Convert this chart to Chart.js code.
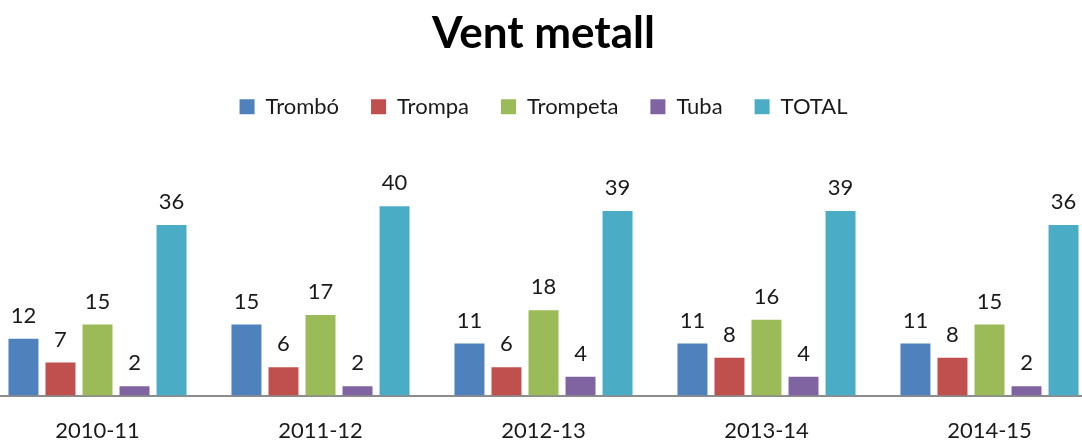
<!DOCTYPE html>
<html>
<head>
<meta charset="utf-8">
<script src="https://cdn.jsdelivr.net/npm/chart.js@4/dist/chart.umd.min.js"></script>
<style>
  html, body { margin: 0; padding: 0; background: #fff; overflow: hidden; }
  #wrap { position: absolute; left: -14px; top: 0; width: 1115px; height: 470px; }
</style>
</head>
<body>
<div id="wrap"><canvas id="chart" width="1115" height="470"></canvas></div>
<script>
const seasons = ["2010-11", "2011-12", "2012-13", "2013-14", "2014-15"];
const trombo = [12, 15, 11, 11, 11];
const trompa = [7, 6, 6, 8, 8];
const trompeta = [15, 17, 18, 16, 15];
const tuba = [2, 2, 4, 4, 2];
const total = [36, 40, 39, 39, 36];

const font = "Lato, 'Open Sans', sans-serif";

// draws the number above each bar
const barLabels = {
  id: "barLabels",
  afterDatasetsDraw(chart) {
    const ctx = chart.ctx;
    ctx.save();
    ctx.font = "22px " + font;
    ctx.fillStyle = "#1a1a1a";
    ctx.textAlign = "center";
    ctx.textBaseline = "bottom";
    chart.data.datasets.forEach((ds, i) => {
      chart.getDatasetMeta(i).data.forEach((bar, j) => {
        ctx.fillText(ds.data[j], bar.x, bar.y - 12);
      });
    });
    ctx.restore();
  }
};

// extra room under the legend
const legendGap = {
  id: "legendGap",
  beforeInit(chart) {
    const fit = chart.legend.fit;
    chart.legend.fit = function () {
      fit.bind(chart.legend)();
      this.height += 31;
    };
  }
};

function series(label, data, color) {
  return { label, data, backgroundColor: color, borderWidth: 0,
           categoryPercentage: 0.83, barPercentage: 0.81 };
}

new Chart(document.getElementById("chart"), {
  type: "bar",
  data: {
    labels: seasons,
    datasets: [
      series("Trombó", trombo, "#4F81BD"),
      series("Trompa", trompa, "#C0504D"),
      series("Trompeta", trompeta, "#9BBB59"),
      series("Tuba", tuba, "#8064A2"),
      series("TOTAL", total, "#4BACC6")
    ]
  },
  options: {
    responsive: false,
    animation: false,
    layout: { padding: { top: 4, bottom: 4, left: 0, right: 0 } },
    plugins: {
      title: {
        display: true,
        text: "Vent metall",
        color: "#000",
        font: { family: font, size: 44, weight: "bold" },
        padding: { top: 3, bottom: 4 }
      },
      legend: {
        position: "top",
        labels: {
          color: "#1a1a1a",
          font: { family: font, size: 22 },
          boxWidth: 15, boxHeight: 15,
          padding: 32
        }
      },
      tooltip: { enabled: false }
    },
    scales: {
      x: {
        grid: { display: false, drawTicks: false },
        border: { color: "#8c8c8c", width: 2 },
        ticks: { color: "#1a1a1a", font: { family: font, size: 22 }, padding: 22 }
      },
      y: {
        display: false,
        min: 0, max: 50
      }
    }
  },
  plugins: [barLabels, legendGap]
});
</script>
</body>
</html>
